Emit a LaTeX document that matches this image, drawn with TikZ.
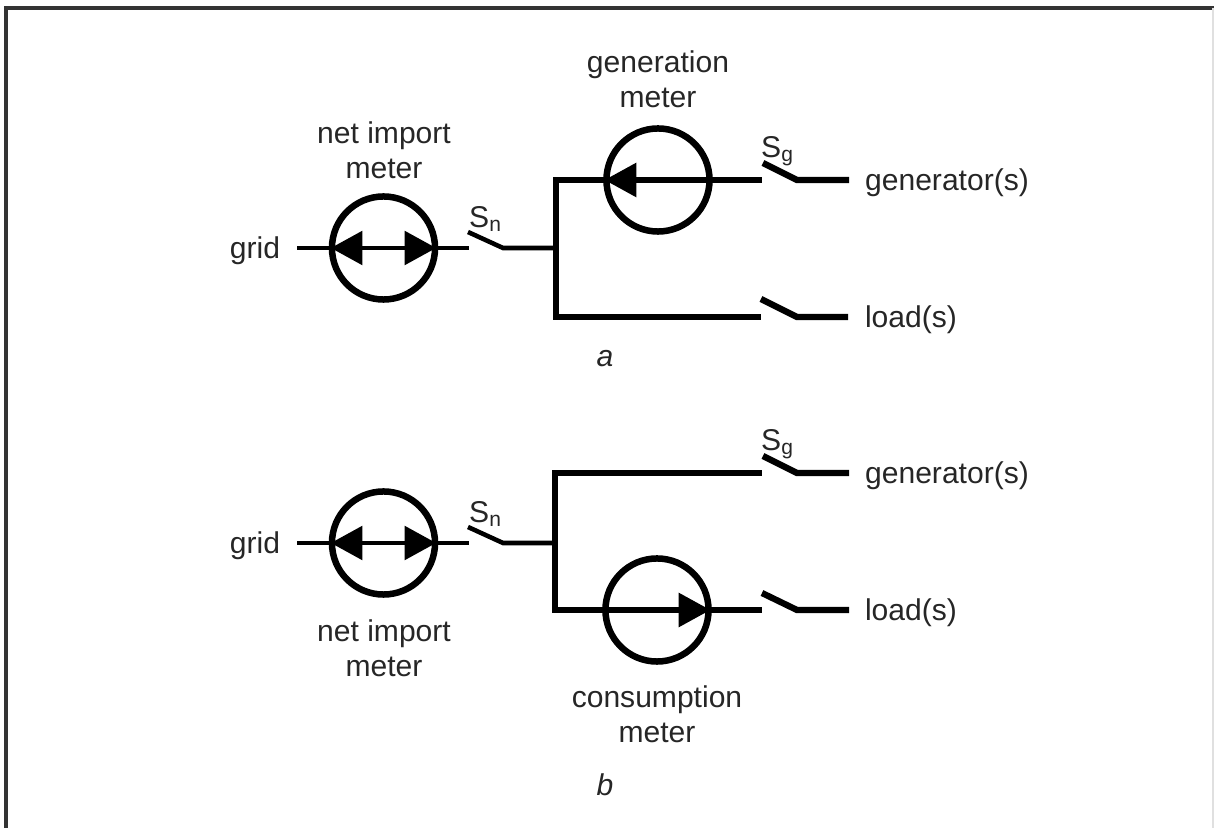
\documentclass[tikz,border=0pt]{standalone}
\usepackage{fontspec}
\setmainfont{Liberation Sans}
\usetikzlibrary{arrows.meta}

\begin{document}
\begin{tikzpicture}[x=0.01cm,y=-0.01cm]
\tikzstyle{meter}=[circle,draw=black,line width=1.85pt,minimum size=1.03cm,inner sep=0pt]
\tikzstyle{txt}=[font=\fontsize{8.55}{10}\selectfont,text=black!85,inner sep=0pt,align=center]
\tikzstyle{wire}=[line width=1.3pt]
\tikzstyle{bus}=[line width=1.8pt]
\tikzstyle{flow}=[wire,shorten <=0.6pt,shorten >=0.6pt,{Triangle[length=9pt,width=9.5pt]}-{Triangle[length=9pt,width=9.5pt]}]
\tikzstyle{flowOne}=[wire,shorten >=0.4pt,-{Triangle[length=9pt,width=9.5pt]}]
\tikzstyle{pin}=[coordinate]

\useasboundingbox (0,0) rectangle (1214,828);

%frame, open at the bottom.
\draw[line width=1pt,black!80] (6,828) -- (6,8) -- (1214,8);
\draw[line width=0.3pt,black!12] (1213,8) -- (1213,828);

%get labels.
\node[txt] at (605,359) {\textit{a}};
\node[txt] at (605,785) {\textit{b}};

%upper circuit.
\node[txt] (gridA) at (255,251) {grid};
\node[txt] (genA) at (947,183) {generator(s)};
\node[txt] (loadA) at (911,320) {load(s)};
\node[meter] (netA) at (383.5,248) {};
\node[meter] (genMeter) at (658,180) {};
\node[txt] at (384,150) {net import\\meter};
\node[txt] at (658,79) {generation\\meter};
\node[txt] at (486,219) {S\textsubscript{n}};
\node[txt] at (778,151) {S\textsubscript{g}};

\node[pin] (gridEndA) at (297,248) {};
\node[pin] (snOpenA) at (469,248) {};
\node[pin] (snArmA) at (468,232) {};
\node[pin] (snHingeA) at (503,248) {};
\node[pin] (nodeA) at (556,248) {};
\node[pin] (topA) at (556,180) {};
\node[pin] (botA) at (556,317) {};
\node[pin] (sgOpenA) at (762,180) {};
\node[pin] (sgArmA) at (763,163) {};
\node[pin] (sgHingeA) at (797,180) {};
\node[pin] (genEndA) at (849,180) {};
\node[pin] (slOpenA) at (761,317) {};
\node[pin] (slArmA) at (761,299) {};
\node[pin] (slHingeA) at (797,317) {};
\node[pin] (loadEndA) at (848,317) {};

\draw[wire] (gridEndA) -- (netA.west);
\draw[wire] (netA.east) -- (snOpenA);
\draw[flow] (netA.west) -- (netA.east);
\draw[wire] (snArmA) -- (snHingeA) -- (nodeA);
\draw[bus,line cap=rect] (botA) -- (topA);
\draw[bus] (topA) -- (sgOpenA);
\draw[flowOne] (genMeter.center) -- (genMeter.west);
\draw[bus] (sgArmA) -- (sgHingeA) -- (genEndA);
\draw[bus] (botA) -- (slOpenA);
\draw[bus] (slArmA) -- (slHingeA) -- (loadEndA);

%lower circuit.
\node[txt] (gridB) at (255,546) {grid};
\node[txt] (genB) at (947,476) {generator(s)};
\node[txt] (loadB) at (911,613) {load(s)};
\node[meter] (netB) at (383.5,543) {};
\node[meter] (conMeter) at (657,610) {};
\node[txt] at (384,648) {net import\\meter};
\node[txt] at (657,714) {consumption\\meter};
\node[txt] at (486,514) {S\textsubscript{n}};
\node[txt] at (778,444) {S\textsubscript{g}};

\node[pin] (gridEndB) at (297,543) {};
\node[pin] (snOpenB) at (469,543) {};
\node[pin] (snArmB) at (468,527) {};
\node[pin] (snHingeB) at (503,543) {};
\node[pin] (nodeB) at (555,543) {};
\node[pin] (topB) at (555,473) {};
\node[pin] (botB) at (555,610) {};
\node[pin] (sgOpenB) at (762,473) {};
\node[pin] (sgArmB) at (763,456) {};
\node[pin] (sgHingeB) at (797,473) {};
\node[pin] (genEndB) at (849,473) {};
\node[pin] (slOpenB) at (762,610) {};
\node[pin] (slArmB) at (762,593) {};
\node[pin] (slHingeB) at (797,610) {};
\node[pin] (loadEndB) at (849,610) {};

\draw[wire] (gridEndB) -- (netB.west);
\draw[wire] (netB.east) -- (snOpenB);
\draw[flow] (netB.west) -- (netB.east);
\draw[wire] (snArmB) -- (snHingeB) -- (nodeB);
\draw[bus,line cap=rect] (botB) -- (topB);
\draw[bus] (topB) -- (sgOpenB);
\draw[bus] (sgArmB) -- (sgHingeB) -- (genEndB);
\draw[bus] (botB) -- (slOpenB);
\draw[flowOne] (conMeter.center) -- (conMeter.east);
\draw[bus] (slArmB) -- (slHingeB) -- (loadEndB);
\end{tikzpicture}
\end{document}
